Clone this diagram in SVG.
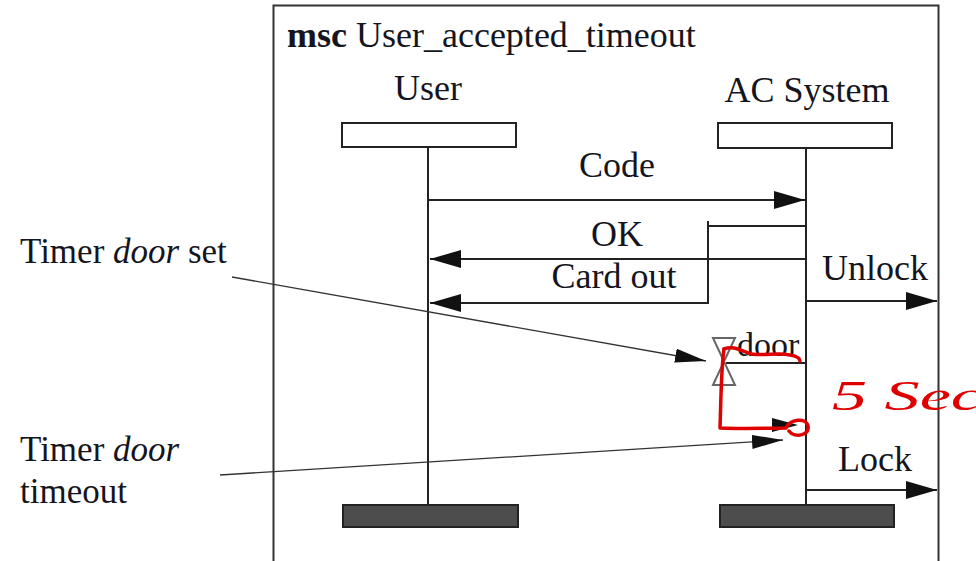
<svg xmlns="http://www.w3.org/2000/svg" width="976" height="561" viewBox="0 0 976 561">
<style>
text{font-family:"Liberation Serif","Times New Roman",serif;fill:#151520}
.lbl{font-size:36px}
.ann{font-size:35px}
.mid{text-anchor:middle}
.ln{stroke:#222;stroke-width:2;fill:none}
.thin{stroke:#333;stroke-width:1.3;fill:none}
.hdr{fill:#fff;stroke:#222;stroke-width:2}
.end{fill:#4d4d4d;stroke:#222;stroke-width:2}
.red{stroke:#e00000;stroke-width:3.5;fill:none;stroke-linecap:round;stroke-linejoin:round}
</style>
<defs>
<marker id="ah" markerWidth="32" markerHeight="20" refX="31" refY="9" orient="auto" markerUnits="userSpaceOnUse">
<path d="M0,0 L31,9 L0,18 Z" fill="#111"/>
</marker>
<marker id="ah2" markerWidth="32" markerHeight="16" refX="31" refY="7" orient="auto" markerUnits="userSpaceOnUse">
<path d="M0,0 L31,7 L0,14 Z" fill="#111"/>
</marker>
</defs>
<rect x="0" y="0" width="976" height="561" fill="#fff"/>
<g id="frame">
<rect x="273.5" y="5.5" width="665" height="562" fill="none" stroke="#333" stroke-width="2"/>
<text x="287" y="47" class="lbl"><tspan font-weight="bold">msc</tspan> User_accepted_timeout</text>
</g>
<g id="user">
<text x="428" y="100" class="lbl mid">User</text>
<rect class="hdr" x="342" y="123" width="174" height="24"/>
<line class="ln" x1="428" y1="147" x2="428" y2="505"/>
<rect class="end" x="343" y="505" width="175" height="22"/>
</g>
<g id="acsystem">
<text x="807" y="102" class="lbl mid">AC System</text>
<rect class="hdr" x="718" y="123" width="174" height="25"/>
<line class="ln" x1="806" y1="148" x2="806" y2="505"/>
<rect class="end" x="720" y="505" width="174" height="22"/>
</g>
<g id="timer">
<path d="M713,338 H735 L713,385 H735 Z" fill="none" stroke="#666" stroke-width="2"/>
<line class="ln" x1="726" y1="363" x2="806" y2="363"/>
<text x="737" y="356" font-size="34px">door</text>
</g>
<g id="connectors">
<line class="ln" x1="428" y1="200" x2="805" y2="200" marker-end="url(#ah)"/>
<text x="617" y="177" class="lbl mid">Code</text>
<line class="ln" x1="806" y1="259" x2="430" y2="259" marker-end="url(#ah)"/>
<text x="617" y="246" class="lbl mid">OK</text>
<path class="ln" d="M806,226 H708 V303 H430" marker-end="url(#ah)"/>
<line class="ln" x1="708" y1="221" x2="708" y2="227"/>
<text x="614" y="288" class="lbl mid">Card out</text>
<line class="ln" x1="806" y1="301" x2="937" y2="301" marker-end="url(#ah)"/>
<text x="822" y="280" class="lbl">Unlock</text>
<line class="ln" x1="806" y1="490" x2="937" y2="490" marker-end="url(#ah)"/>
<text x="838" y="471" class="lbl">Lock</text>
<path d="M772,418 L798,425 L772,432 Z" fill="#111"/>
<line class="thin" x1="232" y1="277" x2="706" y2="361" marker-end="url(#ah2)"/>
<line class="thin" x1="220" y1="475" x2="783" y2="440" marker-end="url(#ah2)"/>
</g>
<g id="annotations">
<text x="20" y="263" class="ann">Timer <tspan font-style="italic">door</tspan> set</text>
<text x="20" y="461" class="ann">Timer <tspan font-style="italic">door</tspan></text>
<text x="20" y="503" class="ann">timeout</text>
</g>
<g id="redmarks">
<path class="red" d="M724,349 C735,345 742,352 752,354 C765,356 778,352 790,355 C796,356 800,358 800,361"/>
<path class="red" d="M724,349 C721,370 721,400 720,428 C745,429 770,428 786,428 C790,419 806,417 808,426 C810,436 794,438 789,431"/>
<text x="832" y="410" font-family="'DejaVu Sans',sans-serif" font-style="italic" font-size="42px" textLength="150" lengthAdjust="spacingAndGlyphs" style="fill:#e00000">5 Sec</text>
</g>
</svg>
